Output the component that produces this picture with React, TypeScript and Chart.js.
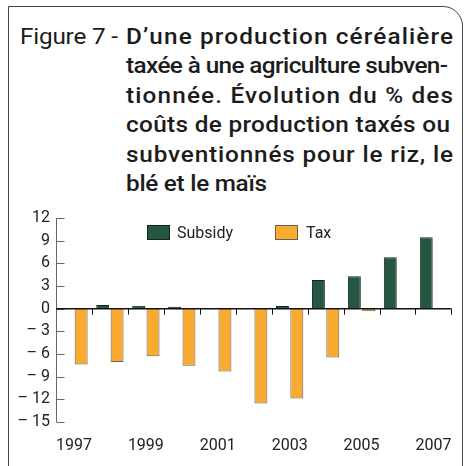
import React, { useEffect, useMemo, useRef } from "react";
import { Chart, registerables } from "chart.js";

Chart.register(...registerables);

const years = ["1997", "1998", "1999", "2000", "2001", "2002", "2003", "2004", "2005", "2006", "2007"];
const subsidy = [0, 0.5, 0.4, 0.25, 0, 0, 0.35, 3.8, 4.3, 6.8, 9.45];
const tax = [-7.4, -7.05, -6.3, -7.55, -8.3, -12.55, -11.9, -6.45, -0.35, 0, 0];
const yTicks = [12, 9, 6, 3, 0, -3, -6, -9, -12, -15];
const shownYears = ["1997", "1999", "2001", "2003", "2005", "2007"];
const seriesNames = ["Subsidy", "Tax"];
const titlePrefix = "Figure 7 -";
const titleLines = [
  "D’une production céréalière",
  "taxée à une agriculture subven-",
  "tionnée. Évolution du % des",
  "coûts de production taxés ou",
  "subventionnés pour le riz, le",
  "blé et le maïs",
];

// typographic layout of the title (target line widths in px, as set in the reference)
const TITLE_LINE_WIDTHS = [327, 322, 327, 324, 327, 141];
const TITLE_PREFIX_WIDTH = 98;
const TITLE_SCALE = 1.08;
const TITLE_SIZE = 22.5;

const GREEN = "#245641";
const ORANGE = "#F9AB31";
const FONT = "Roboto, 'Noto Sans', sans-serif";

function measureText(text: string, weight: number): number {
  const c = document.createElement("canvas").getContext("2d");
  if (!c) return 0;
  c.font = `${weight} ${TITLE_SIZE}px Roboto`;
  return c.measureText(text).width;
}

function spacingFor(text: string, weight: number, target: number): number {
  const w = measureText(text, weight);
  const n = Math.max(1, text.length - 1);
  return (target / TITLE_SCALE - w) / n;
}

const axisDecor = {
  id: "axisDecor",
  afterDatasetsDraw(chart: any) {
    const { ctx, chartArea, scales } = chart;
    const x = scales.x;
    const y = scales.y;
    ctx.save();
    ctx.strokeStyle = "#666";
    ctx.lineWidth = 1;
    const ax = Math.round(chartArea.left) + 0.5;
    ctx.beginPath();
    ctx.moveTo(ax, y.getPixelForValue(yTicks[0]));
    ctx.lineTo(ax, y.getPixelForValue(yTicks[yTicks.length - 1]));
    ctx.stroke();
    yTicks.forEach((v) => {
      const py = Math.round(y.getPixelForValue(v)) + 0.5;
      ctx.beginPath();
      ctx.moveTo(ax, py);
      ctx.lineTo(ax + 8, py);
      ctx.stroke();
    });
    const y0 = y.getPixelForValue(0);
    ctx.strokeStyle = "#111";
    ctx.lineWidth = 1.5;
    ctx.beginPath();
    ctx.moveTo(chartArea.left, y0);
    ctx.lineTo(chartArea.right, y0);
    ctx.stroke();
    const step = x.getPixelForValue(1) - x.getPixelForValue(0);
    ctx.lineWidth = 1;
    for (let i = 1; i <= years.length; i++) {
      const px = Math.round(x.getPixelForValue(i) - step / 2) + 0.5;
      ctx.beginPath();
      ctx.moveTo(px, y0);
      ctx.lineTo(px, y0 + 6);
      ctx.stroke();
    }
    ctx.restore();
  },
};

export default function App() {
  const canvasRef = useRef<HTMLCanvasElement | null>(null);

  const lineSpacings = useMemo(
    () => titleLines.map((l, i) => spacingFor(l, 500, TITLE_LINE_WIDTHS[i])),
    []
  );
  const prefixSpacing = useMemo(() => spacingFor(titlePrefix, 400, TITLE_PREFIX_WIDTH), []);

  useEffect(() => {
    if (!canvasRef.current) return;
    const chart = new Chart(canvasRef.current, {
      type: "bar",
      data: {
        labels: years,
        datasets: [
          {
            label: seriesNames[0],
            data: subsidy,
            backgroundColor: GREEN,
            borderColor: "#14251c",
            borderWidth: 1,
            categoryPercentage: 0.8,
            barPercentage: 0.9,
          },
          {
            label: seriesNames[1],
            data: tax,
            backgroundColor: ORANGE,
            borderColor: "#6a5f50",
            borderWidth: 1,
            categoryPercentage: 0.8,
            barPercentage: 0.9,
          },
        ],
      },
      options: {
        animation: false,
        responsive: false,
        maintainAspectRatio: false,
        layout: { padding: { top: 18, right: 13, left: 0, bottom: 0 } },
        plugins: { legend: { display: false }, tooltip: { enabled: false }, title: { display: false } },
        scales: {
          x: {
            grid: { display: false, drawTicks: false },
            border: { display: false },
            ticks: {
              autoSkip: false,
              maxRotation: 0,
              padding: 14,
              color: "#222",
              font: { family: FONT, size: 16 },
              callback: (_v: any, i: number) => (shownYears.includes(years[i]) ? years[i] : ""),
            },
            afterFit: (s: any) => {
              s.height = 44;
            },
          },
          y: {
            min: yTicks[yTicks.length - 1],
            max: yTicks[0],
            grid: { display: false, drawTicks: false },
            border: { display: false },
            afterBuildTicks: (s: any) => {
              s.ticks = yTicks.map((v) => ({ value: v }));
            },
            ticks: {
              padding: 6,
              color: "#222",
              font: { family: FONT, size: 16 },
              callback: (v: any) => (Number(v) < 0 ? "– " + Math.abs(Number(v)) : String(v)),
            },
            afterFit: (s: any) => {
              s.width = 56;
            },
          },
        },
      },
      plugins: [axisDecor],
    });
    return () => chart.destroy();
  }, []);

  const legendItem = (left: number, color: string, border: string, text: string, textLeft: number) => (
    <>
      <div
        style={{
          position: "absolute",
          left,
          top: 225,
          width: 23,
          height: 15,
          background: color,
          border: `1px solid ${border}`,
          boxSizing: "border-box",
        }}
      />
      <div
        style={{
          position: "absolute",
          left: textLeft,
          top: 222,
          height: 22,
          lineHeight: "22px",
          fontFamily: FONT,
          fontSize: 16,
          color: "#222",
          whiteSpace: "nowrap",
        }}
      >
        {text}
      </div>
    </>
  );

  return (
    <div
      style={{
        position: "absolute",
        left: 0,
        top: 0,
        width: 466,
        height: 466,
        overflow: "hidden",
        background: "#fff",
      }}
    >
      <div
        style={{
          position: "absolute",
          left: 8,
          top: 6,
          width: 455,
          height: 520,
          border: "1.5px solid #444",
          borderTopRightRadius: 20,
          boxSizing: "border-box",
        }}
      />
      <div
        style={{
          position: "absolute",
          left: 20,
          top: 21.5,
          display: "flex",
          fontFamily: FONT,
          fontSize: TITLE_SIZE,
          lineHeight: "29.5px",
          color: "#1c1c1c",
          whiteSpace: "nowrap",
          transform: `scaleX(${TITLE_SCALE})`,
          transformOrigin: "0 0",
        }}
      >
        <div style={{ width: 106 / TITLE_SCALE, fontWeight: 400, letterSpacing: prefixSpacing }}>{titlePrefix}</div>
        <div style={{ fontWeight: 500 }}>
          {titleLines.map((l, i) => (
            <div key={i} style={{ letterSpacing: lineSpacings[i] }}>
              {l}
            </div>
          ))}
        </div>
      </div>
      <canvas
        ref={canvasRef}
        width={466}
        height={266}
        style={{ position: "absolute", left: 0, top: 200, width: 466, height: 266 }}
      />
      {legendItem(147, GREEN, "#14251c", seriesNames[0], 177)}
      {legendItem(275, ORANGE, "#6a5f50", seriesNames[1], 306)}
    </div>
  );
}
